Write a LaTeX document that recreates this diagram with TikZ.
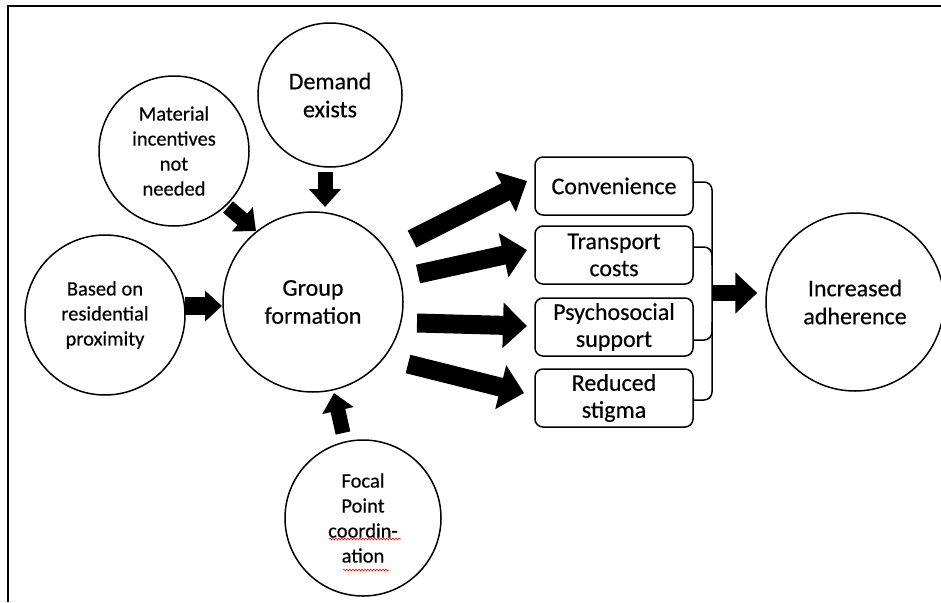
\documentclass[tikz,border=0pt]{standalone}
\usepackage{fontspec}
\setmainfont{Carlito}[FakeBold=0.35]
\usetikzlibrary{arrows.meta,decorations.pathmorphing}
\begin{document}
\begin{tikzpicture}[x=1pt,y=-1pt,
  circ/.style={draw,circle,line width=1.5pt,inner sep=0pt,align=center,
    font=\fontsize{24}{28}\selectfont},
  smallcirc/.style={circ,font=\fontsize{20.5}{25}\selectfont},
  box/.style={draw,rounded corners=8pt,line width=1.5pt,minimum width=158pt,
    minimum height=58pt,inner sep=0pt,align=center,font=\fontsize{24}{27}\selectfont},
  brk/.style={line width=1.5pt,rounded corners=8pt},
  smallarrow/.style={line width=15pt,-{Triangle[length=18pt,width=31pt]}},
  bigarrow/.style={line width=19pt,-{Triangle[length=24pt,width=44pt]}},
  endarrow/.style={line width=16pt,-{Triangle[length=22pt,width=40pt]}},
  squiggle/.style={red,line width=0.6pt,decorate,
    decoration={snake,amplitude=0.9pt,segment length=3pt}}]
\useasboundingbox (0,0) rectangle (941,602);
% frame
\draw[line width=2pt] (8,602) -- (8,6) -- (941,6);

% nodes
\node[circ,minimum size=144pt] (de) at (330,95) {Demand\\exists};
\node[smallcirc,minimum size=150pt] (mi) at (174,151) {Material\\incentives\\not\\needed};
\node[smallcirc,minimum size=160pt] (bp) at (105,315) {Based on\\residential\\proximity};
\node[circ,minimum size=180pt] (g) at (313,302) {Group\\formation};
\node[smallcirc,minimum size=156pt] (fp) at (363,518) {Focal\\Point\\coordin-\\ation};
\node[circ,minimum size=178pt] (ia) at (855,302) {Increased\\adherence};

\node[box] (c1) at (614,186) {Convenience};
\node[box] (c2) at (614,255) {Transport\\costs};
\node[box] (c3) at (614,327) {Psychosocial\\support};
\node[box] (c4) at (614,398) {Reduced\\stigma};

% spell-check marks
\draw[squiggle] ([xshift=-34pt,yshift=-21pt]fp.center) -- ([xshift=38pt,yshift=-21pt]fp.center);
\draw[squiggle] ([xshift=-20pt,yshift=-52pt]fp.center) -- ([xshift=26pt,yshift=-52pt]fp.center);

% arrow end points
\coordinate (deT) at (325,172); \coordinate (deH) at (325,207);
\coordinate (miT) at (228,207); \coordinate (miH) at (256,231);
\coordinate (bpT) at (185,306); \coordinate (bpH) at (222,306);
\coordinate (fpT) at (343,433); \coordinate (fpH) at (334,393);
\coordinate (g1) at (412,239); \coordinate (h1) at (527,181);
\coordinate (g2) at (418,274); \coordinate (h2) at (527,250);
\coordinate (g3) at (417,323); \coordinate (h3) at (527,326);
\coordinate (g4) at (408,364); \coordinate (h4) at (524,393);

\draw[smallarrow] (deT) -- (deH);
\draw[smallarrow] (miT) -- (miH);
\draw[line width=18pt,-{Triangle[length=17pt,width=30pt]}] (bpT) -- (bpH);
\draw[smallarrow] (fpT) -- (fpH);

\draw[bigarrow] (g1) -- (h1);
\draw[bigarrow] (g2) -- (h2);
\draw[bigarrow] (g3) -- (h3);
\draw[bigarrow] (g4) -- (h4);

% bracket
\coordinate (bt) at (712,182);
\coordinate (bb) at (712,400);
\draw[brk] ([yshift=4pt]c1.east) -- (bt) -- (bb) -- ([yshift=-2pt]c4.east);
\draw[brk] ([yshift=8pt]c2.east) -| (712,265);
\draw[brk] ([yshift=-13pt]c3.east) -| (712,322);

\coordinate (bm) at (712,293);
\draw[endarrow] (bm) -- (ia.west |- bm) [shorten >=8pt];
\end{tikzpicture}
\end{document}
